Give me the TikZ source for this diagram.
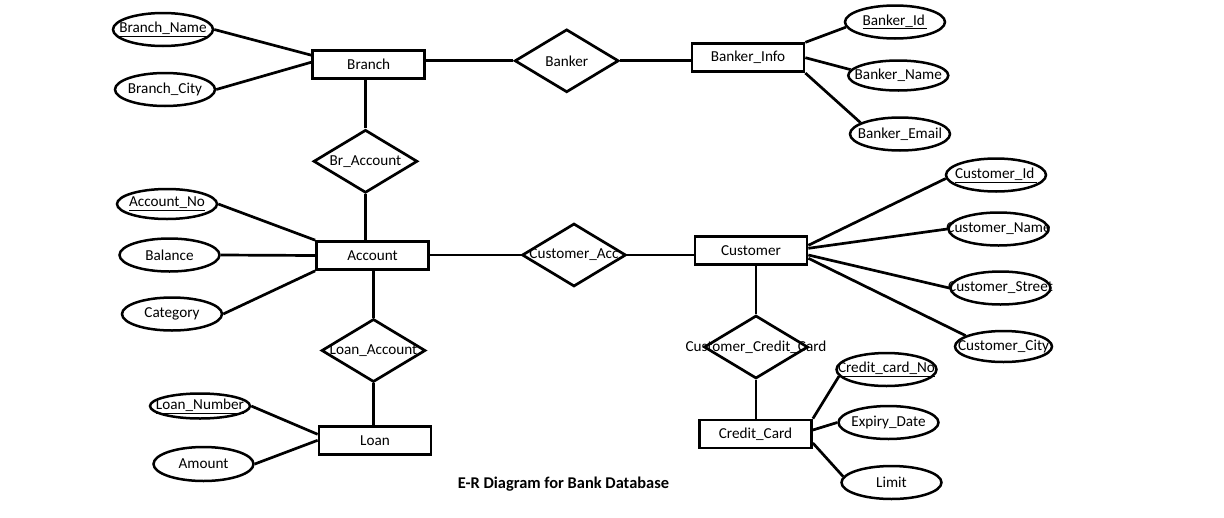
\documentclass[tikz,border=0pt]{standalone}
\usepackage{fontspec}
\setmainfont{Carlito}
\usetikzlibrary{shapes.geometric}
\tikzset{
  txt/.style={font=\fontsize{15.2}{18}\selectfont},
  ent/.style={draw, line width=2.7pt, minimum width=112pt, minimum height=28pt, inner sep=0pt, txt},
  attr/.style={draw, ellipse, line width=2.5pt, minimum width=100pt, minimum height=33pt, inner sep=0pt},
  rel/.style={draw, diamond, line width=2.7pt, minimum width=104pt, minimum height=63pt, inner sep=0pt},
  conn/.style={line width=2.7pt},
  every label/.style={txt, inner sep=0pt}
}
\begin{document}
\begin{tikzpicture}[x=1pt,y=-1pt]
\fill[white] (0,0) rectangle (1224,517);
\path[use as bounding box] (0,0) rectangle (1224,517);
% entities
\node[ent] (branch) at (368.7,64.2) {Branch};
\node[ent] (binfo) at (748,57.7) {Banker\_Info};
\node[ent] (acc) at (372.5,255.5) {Account};
\node[ent] (cust) at (751,250.3) {Customer};
\node[ent] (ccard) at (755.5,434) {Credit\_Card};
\node[ent] (loan) at (375,440.3) {Loan};
% relationships
\node[rel, label={center:Banker}] (banker) at (566.7,60.8) {};
\node[rel, label={center:Br\_Account}] (bracc) at (365.5,161.3) {};
\node[rel, label={center:Customer\_Acc}] (cacc) at (574,255) {};
\node[rel, label={center:Customer\_Credit\_Card}] (ccc) at (756,347) {};
\node[rel, label={center:Loan\_Account}] (lacc) at (373.5,350.5) {};
% attributes
\node[attr, label={center:\underline{Branch\_Name}}] (bname) at (163,29.5) {};
\node[attr, label={center:Branch\_City}] (bcity) at (165,89.5) {};
\node[attr, label={center:\underline{Banker\_Id\,}}] (bid) at (895,22) {};
\node[attr, minimum height=30pt, label={center:Banker\_Name}] (bname2) at (898.3,75.5) {};
\node[attr, label={center:Banker\_Email}] (bemail) at (900,134) {};
\node[attr, minimum height=30pt, label={center:\underline{Account\_No}}] (anid) at (167,204) {};
\node[attr, label={center:Balance}] (bal) at (169.5,255) {};
\node[attr, label={center:Category}] (cat) at (172,314) {};
\node[attr, label={center:\underline{Customer\_Id\,}}] (cid) at (996,175) {};
\node[attr, label={center:Customer\_Name}] (cname) at (998.5,229) {};
\node[attr, label={center:Customer\_Street}] (cstreet) at (1000.5,288) {};
\node[attr, minimum width=97pt, minimum height=31pt, label={center:Customer\_City}] (ccity) at (1003.5,346.5) {};
\node[attr, label={center:\underline{Credit\_card\_No}}] (ccno) at (886.5,369.5) {};
\node[attr, label={center:Expiry\_Date}] (exp) at (888.5,422.5) {};
\node[attr, label={center:Limit}] (lim) at (891.5,482.5) {};
\node[attr, minimum height=25pt, label={center:\underline{Loan\_Number}}] (lnum) at (200,406) {};
\node[attr, minimum height=34pt, label={center:Amount}] (amt) at (203.5,464) {};
% title
\node[font=\bfseries\fontsize{16.4}{19}\selectfont] (title) at (563.5,484) {E-R Diagram for Bank Database};
% connectors
\draw[conn] (bname.east) -- ([yshift=9pt]branch.west);
\draw[conn] (bcity.east) -- ([yshift=2pt]branch.west);
\draw[conn] (banker.west) -- (banker.west -| branch.east);
\draw[conn] (banker.east) -- (banker.east -| binfo.west);
\draw[conn] (binfo.north east) -- (bid.186);
\draw[conn] (binfo.east) -- (bname2.173);
\draw[conn] (binfo.south east) -- (bemail.164);
\draw[conn] (bracc.north) -- (bracc.north |- branch.south);
\draw[conn] (bracc.south) -- (bracc.south |- acc.north);
\draw[conn] (anid.east) -- (acc.north west);
\draw[conn] (bal.east) -- (acc.west);
\draw[conn] (cat.east) -- (acc.south west);
\draw[conn] (cacc.west) -- (cacc.west -| acc.east);
\draw[conn] (cacc.east) -- (cacc.east -| cust.west);
\draw[conn] ([yshift=5pt]cust.east) -- (cid.184);
\draw[conn] ([yshift=2pt]cust.east) -- (cname.west);
\draw[conn] ([yshift=-4.7pt]cust.east) -- (cstreet.west);
\draw[conn] ([yshift=-8pt]cust.east) -- (ccity.164);
\draw[conn] (ccc.north) -- (ccc.north |- cust.south);
\draw[conn] (ccc.south) -- (ccc.south |- ccard.north);
\draw[conn] (ccard.north east) -- (ccno.188);
\draw[conn] ([yshift=4pt]ccard.east) -- (exp.west);
\draw[conn] ([yshift=-9pt]ccard.east) -- (lim.173);
\draw[conn] (lacc.north) -- (lacc.north |- acc.south);
\draw[conn] (lacc.south) -- (lacc.south |- loan.north);
\draw[conn] (lnum.east) -- ([yshift=6pt]loan.west);
\draw[conn] (amt.east) -- (loan.west);
\end{tikzpicture}
\end{document}
